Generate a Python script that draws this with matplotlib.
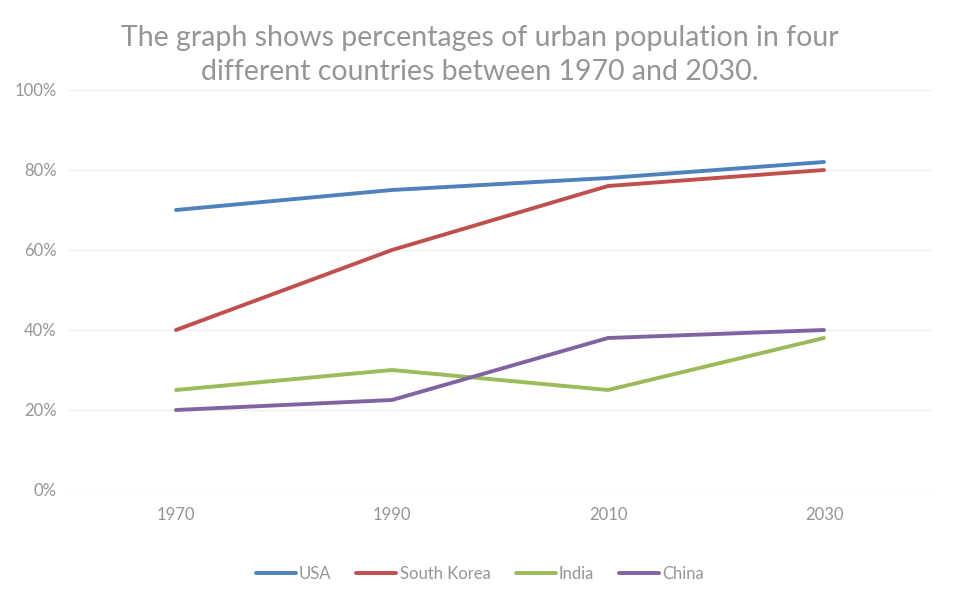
import matplotlib.pyplot as plt
from matplotlib.ticker import FuncFormatter

years = ["1970", "1990", "2010", "2030"]
usa = [70, 75, 78, 82]
south_korea = [40, 60, 76, 80]
india = [25, 30, 25, 38]
china = [20, 22.5, 38, 40]

series = [
    ("USA", usa, "#4F81BD"),
    ("South Korea", south_korea, "#C0504D"),
    ("India", india, "#9BBB59"),
    ("China", china, "#8064A2"),
]

plt.rcParams['font.family'] = ['Lato', 'DejaVu Sans']
grey = "#959595"

fig = plt.figure(figsize=(9.6, 6.06), dpi=100)
ax = fig.add_axes([68 / 960, 1 - 490 / 606, 864 / 960, 400 / 606])

x = range(len(years))
for name, vals, color in series:
    ax.plot(x, vals, color=color, linewidth=2.8, label=name, solid_capstyle='round')

ax.set_xlim(-0.5, len(years) - 0.5)
ax.set_ylim(0, 100)
ax.set_yticks(range(0, 101, 20))
ax.yaxis.set_major_formatter(FuncFormatter(lambda v, p: f"{int(v)}%"))
ax.set_xticks(list(x))
ax.set_xticklabels(years)
ax.grid(axis='y', color='#f0f0f0', linewidth=1)
ax.set_axisbelow(True)
for s in ax.spines.values():
    s.set_visible(False)
ax.tick_params(length=0, colors=grey, labelsize=12)
ax.tick_params(axis='x', pad=12)
ax.tick_params(axis='y', pad=8)

fig.text(0.5, 1 - 55 / 606,
         "The graph shows percentages of urban population in four\ndifferent countries between 1970 and 2030.",
         ha='center', va='center', fontsize=20.5, color=grey,
         linespacing=1.35)

leg = fig.legend(loc='center', bbox_to_anchor=(0.5, 1 - 574 / 606), ncol=4,
                 frameon=False, fontsize=12, handlelength=2.4, handletextpad=0.2,
                 columnspacing=1.5, labelcolor=grey)

fig.savefig("out.png", dpi=100)
